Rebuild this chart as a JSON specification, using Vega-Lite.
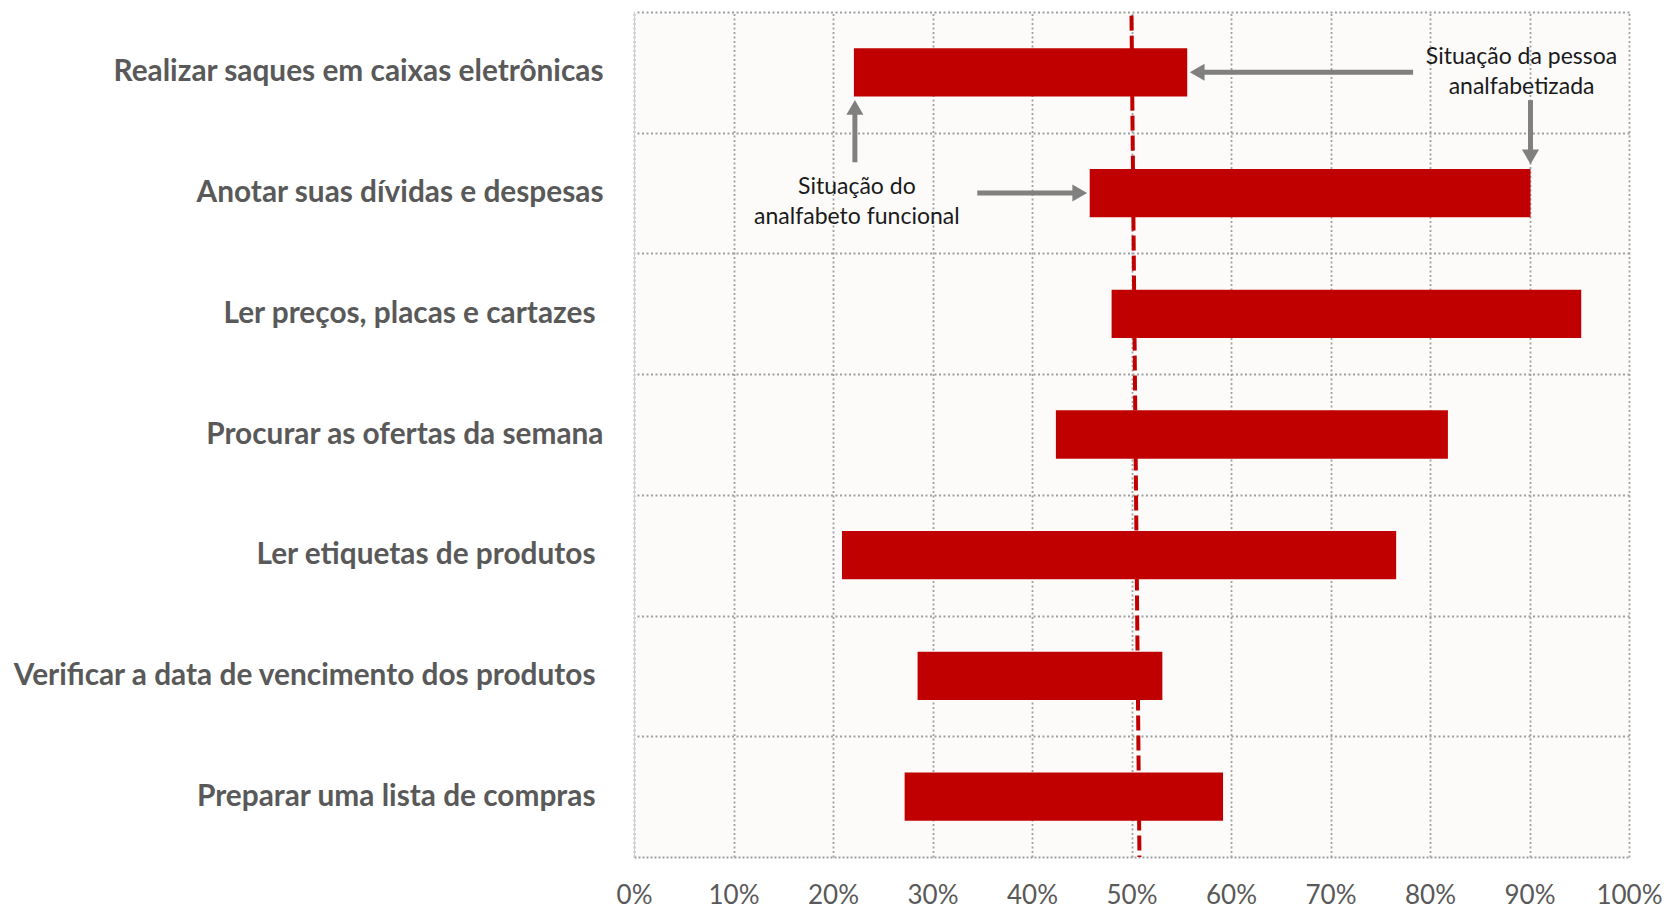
{
  "$schema": "https://vega.github.io/schema/vega-lite/v6.json",
  "width": 995,
  "height": 845,
  "autosize": {"type": "none"},
  "padding": {"left": 634, "top": 12, "right": 40, "bottom": 53},
  "background": "white",
  "config": {"view": {"fill": "#fcfbfa", "stroke": null}, "font": "Lato"},
  "layer": [
    {
      "data": {"values": [
        {"task": "Realizar saques em caixas eletrônicas", "x": 22.1, "x2": 55.6},
        {"task": "Anotar suas dívidas e despesas", "x": 45.8, "x2": 90.1},
        {"task": "Ler preços, placas e cartazes", "x": 48.0, "x2": 95.2},
        {"task": "Procurar as ofertas da semana", "x": 42.4, "x2": 81.8},
        {"task": "Ler etiquetas de produtos", "x": 20.9, "x2": 76.6},
        {"task": "Verificar a data de vencimento dos produtos", "x": 28.5, "x2": 53.1},
        {"task": "Preparar uma lista de compras", "x": 27.2, "x2": 59.2}
      ]},
      "mark": {"type": "bar", "color": "#c00000", "height": {"band": 0.4}},
      "encoding": {
        "y": {"field": "task", "type": "nominal", "sort": null,
          "scale": {"paddingInner": 0, "paddingOuter": 0},
          "axis": {"title": null, "labelFont": "Lato", "labelFontWeight": "bold", "labelFontSize": 29.8, "labelColor": "#595959",
            "labelPadding": {"condition": {"test": "indexof(['Ler preços, placas e cartazes', 'Ler etiquetas de produtos', 'Verificar a data de vencimento dos produtos', 'Preparar uma lista de compras'], datum.value) >= 0", "value": 39}, "value": 31},
            "ticks": false, "tickSize": 0, "domain": true, "domainColor": "#d0d0d0", "domainWidth": 1, "grid": false, "labelLimit": 800}},
        "x": {"field": "x", "type": "quantitative",
          "scale": {"domain": [0, 100], "nice": false, "zero": false},
          "axis": {"title": null, "values": [0, 10, 20, 30, 40, 50, 60, 70, 80, 90, 100], "labelExpr": "datum.value + '%'", "labelFont": "Lato", "labelFontSize": 26, "labelColor": "#595959", "labelBaseline": "middle", "labelPadding": 38, "ticks": false, "tickSize": 0, "grid": true, "gridColor": "#a0a0a0", "gridDash": [2, 2.5], "gridWidth": 1.8, "domain": true, "domainColor": "#a0a0a0", "domainDash": [2, 2], "domainWidth": 1.8, "labelFlush": false}},
        "x2": {"field": "x2"}
      }
    },
    {
      "encoding": {
        "y": {"field": "p", "type": "quantitative",
          "scale": {"domain": [0, 7], "reverse": true, "nice": false, "zero": false},
          "axis": {"orient": "right", "values": [0, 1, 2, 3, 4, 5, 6], "grid": true, "gridColor": "#a0a0a0", "gridDash": [2, 2.5], "gridWidth": 1.8, "labels": false, "ticks": false, "domain": false, "title": null}}
      },
      "layer": [
        {
          "data": {"values": [{"x": 50.0, "x2": 50.8, "p": 0.03, "p2": 7}]},
          "mark": {"type": "rule", "color": "#c00000", "strokeWidth": 4, "strokeDash": [15, 5]},
          "encoding": {
            "x": {"field": "x", "type": "quantitative"},
            "x2": {"field": "x2"},
            "y2": {"field": "p2"}
          }
        },
        {
          "data": {"values": [
            {"x": 78.3, "x2": 56.6, "p": 0.5, "p2": 0.5},
            {"x": 90.1, "x2": 90.1, "p": 0.73, "p2": 1.2},
            {"x": 22.2, "x2": 22.2, "p": 1.245, "p2": 0.79},
            {"x": 34.5, "x2": 44.8, "p": 1.5, "p2": 1.5}
          ]},
          "mark": {"type": "rule", "color": "#808080", "strokeWidth": 5},
          "encoding": {
            "x": {"field": "x", "type": "quantitative"},
            "x2": {"field": "x2"},
            "y2": {"field": "p2"}
          }
        },
        {
          "data": {"values": [
            {"x": 56.6, "p": 0.5, "dir": "left"},
            {"x": 90.1, "p": 1.2, "dir": "down"},
            {"x": 22.2, "p": 0.79, "dir": "up"},
            {"x": 44.8, "p": 1.5, "dir": "right"}
          ]},
          "mark": {"type": "point", "filled": true, "color": "#808080", "opacity": 1, "size": 290},
          "encoding": {
            "x": {"field": "x", "type": "quantitative"},
            "shape": {"field": "dir", "type": "nominal", "legend": null,
              "scale": {"domain": ["left", "right", "up", "down"], "range": ["triangle-left", "triangle-right", "triangle-up", "triangle-down"]}}
          }
        },
        {
          "data": {"values": [
            {"x": 89.2, "p": 0.37, "label": "Situação da pessoa"},
            {"x": 89.2, "p": 0.625, "label": "analfabetizada"},
            {"x": 22.4, "p": 1.447, "label": "Situação do"},
            {"x": 22.4, "p": 1.696, "label": "analfabeto funcional"}
          ]},
          "mark": {"type": "text", "font": "Lato", "fontSize": 23, "color": "#1a1a1a", "align": "center", "baseline": "middle"},
          "encoding": {
            "x": {"field": "x", "type": "quantitative"},
            "text": {"field": "label"}
          }
        }
      ]
    }
  ],
  "resolve": {"scale": {"y": "independent"}, "axis": {"y": "independent"}}
}
